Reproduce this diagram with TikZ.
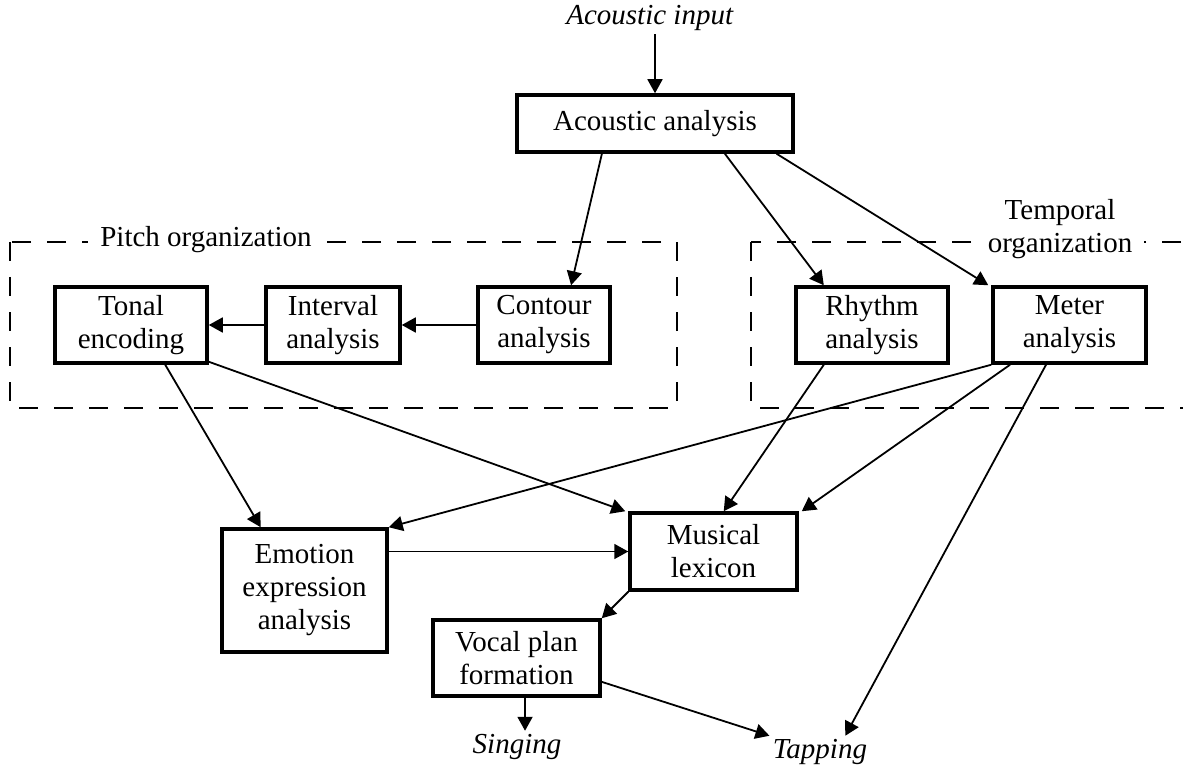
\documentclass[tikz,border=0pt]{standalone}
\usepackage{fontspec}
\setmainfont{Liberation Serif}
\usetikzlibrary{arrows.meta,calc}
\begin{document}
\begin{tikzpicture}[x=1pt,y=-1pt,
  every node/.style={font=\fontsize{29}{33}\selectfont},
  box/.style={draw,line width=3.5pt,align=center,inner sep=0pt},
  arr/.style={line width=1.8pt,-{Triangle[length=14pt,width=15pt]}},
  dashbox/.style={line width=1.8pt,dash pattern=on 19pt off 16pt},
  grplab/.style={fill=white,align=center,inner xsep=12pt,inner ysep=0pt}]
\useasboundingbox (0,0) rectangle (1183,767);
% group frames
\draw[dashbox] (10,242) rectangle (677,408);
\node[grplab] (pitchlab) at (206,240) {Pitch organization};
\draw[dashbox] (751,242) rectangle (1220,408);
\node[grplab] (templab) at (1060,229) {Temporal\\organization};
% boxes
\node[box,minimum width=276pt,minimum height=57pt] (acan) at (655,123.5) {Acoustic analysis};
\node[box,minimum width=152pt,minimum height=76pt] (tonal) at (131,325) {Tonal\\encoding};
\node[box,minimum width=134pt,minimum height=76pt] (interval) at (333,325) {Interval\\analysis};
\node[box,minimum width=132pt,minimum height=76pt] (contour) at (544,325) {Contour\\analysis};
\node[box,minimum width=152pt,minimum height=76pt] (rhythm) at (872,325) {Rhythm\\analysis};
\node[box,minimum width=153pt,minimum height=76pt] (meter) at (1069.5,325) {Meter\\analysis};
\node[box,minimum width=165pt,minimum height=123pt] (emotion) at (304.5,590.5) {Emotion\\expression\\analysis};
\node[box,minimum width=167pt,minimum height=77pt] (lexicon) at (713.5,551.5) {Musical\\lexicon};
\node[box,minimum width=167pt,minimum height=76pt] (vocal) at (516.5,658) {Vocal plan\\formation};
% free texts
\node (input) at (650,18) {\textit{Acoustic input}};
\node (sing) at (517,747) {\textit{Singing}};
\node (tap) at (820,752) {\textit{Tapping}};
% connectors
\draw[arr] (input.south -| acan.north) -- (acan.north);
\draw[arr] ($(acan.south west)!0.31!(acan.south east)$) -- ($(contour.north west)!0.70!(contour.north east)$);
\draw[arr] ($(acan.south west)!0.75!(acan.south east)$) -- ($(rhythm.north west)!0.19!(rhythm.north east)$);
\draw[arr] ($(acan.south west)!0.935!(acan.south east)$) -- ($(meter.north west)+(-3,0)$);
\draw[arr] (contour.west) -- (interval.east);
\draw[arr] (interval.west) -- (tonal.east);
\draw[arr] ($(tonal.south west)!0.72!(tonal.south east)$) -- ($(emotion.north west)!0.24!(emotion.north east)$);
\draw[arr] ($(tonal.south east)+(0,-3)$) -- ($(lexicon.north west)+(-3,0)$);
\draw[arr] ($(rhythm.south west)!0.19!(rhythm.south east)$) -- ($(lexicon.north west)!0.56!(lexicon.north east)$);
\draw[arr] ($(meter.south west)!0.12!(meter.south east)$) -- ($(lexicon.north east)+(3,0)$);
\draw[arr] (meter.south west) -- (emotion.north east);
\draw[arr] ($(meter.south west)!0.35!(meter.south east)$) -- ($(tap.north west)!0.75!(tap.north east)$);
\draw[arr] (emotion.east |- lexicon.west) -- (lexicon.west);
\draw[arr] (lexicon.south west) -- (vocal.north east);
\coordinate (vs) at ($(vocal.south west)!0.55!(vocal.south east)$);
\draw[arr] (vs) -- (vs |- sing.north);
\draw[arr] ($(vocal.north east)!0.8!(vocal.south east)$) -- (tap.north west);
\end{tikzpicture}
\end{document}
